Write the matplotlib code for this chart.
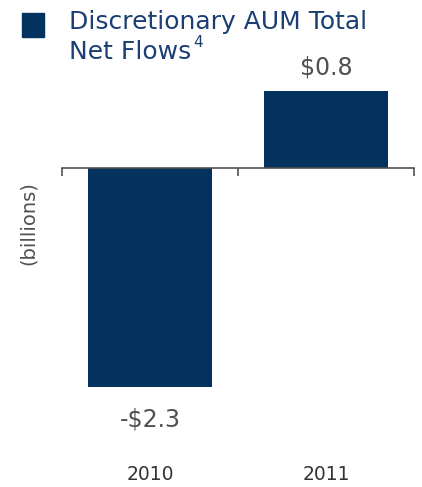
import matplotlib.pyplot as plt
import matplotlib.transforms as mtransforms

years = ["2010", "2011"]
net_flows = [-2.3, 0.8]
value_labels = ["-$2.3", "$0.8"]

navy = "#04325f"
gray = "#505050"

fig = plt.figure(figsize=(4.22, 4.87), dpi=100)
ax = fig.add_axes([62 / 422, 67 / 487, 352 / 422, 360 / 487])

x = range(len(years))
ax.bar(x, net_flows, width=0.71, color=navy, zorder=2)
ax.set_xlim(-0.5, 1.5)
ax.set_ylim(-2.65, 1.13)

# only the zero line is shown, with ticks between the categories
for side in ["left", "right", "top"]:
    ax.spines[side].set_visible(False)
ax.spines["bottom"].set_position(("data", 0))
ax.spines["bottom"].set_color(gray)
ax.spines["bottom"].set_linewidth(1.2)
ax.set_xticks([-0.5, 0.5, 1.5])
ax.set_xticklabels([])
ax.tick_params(axis="x", direction="out", length=6, color=gray, width=1.2)
ax.set_yticks([])

# value labels above / below the bars
for i, (v, lab) in enumerate(zip(net_flows, value_labels)):
    if v > 0:
        ax.text(i, v + 0.13, lab, ha="center", va="bottom", fontsize=17, color=gray)
    else:
        ax.text(i, v - 0.22, lab, ha="center", va="top", fontsize=17, color=gray)

# year labels near the bottom of the figure
trans = mtransforms.blended_transform_factory(ax.transData, fig.transFigure)
for i, yr in enumerate(years):
    ax.text(i, 12 / 487, yr, transform=trans, ha="center", va="center",
            fontsize=13.5, color="#333333")

fig.text(28 / 422, 1 - 223 / 487, "(billions)", rotation=90, ha="center",
         va="center", fontsize=14, color=gray)

# legend box
fig.patches.append(plt.Rectangle((22 / 422, 1 - 37 / 487), 22 / 422, 24 / 487,
                                 transform=fig.transFigure, color=navy))
fig.text(69 / 422, 1 - 29 / 487, "Discretionary AUM Total", fontsize=18,
         color="#1b3f73", va="baseline")
fig.text(69 / 422, 1 - 59 / 487, "Net Flows", fontsize=18,
         color="#1b3f73", va="baseline")
fig.text(193 / 422, 1 - 47 / 487, "4", fontsize=11,
         color="#1b3f73", va="baseline")

fig.savefig("out.png", dpi=100)
